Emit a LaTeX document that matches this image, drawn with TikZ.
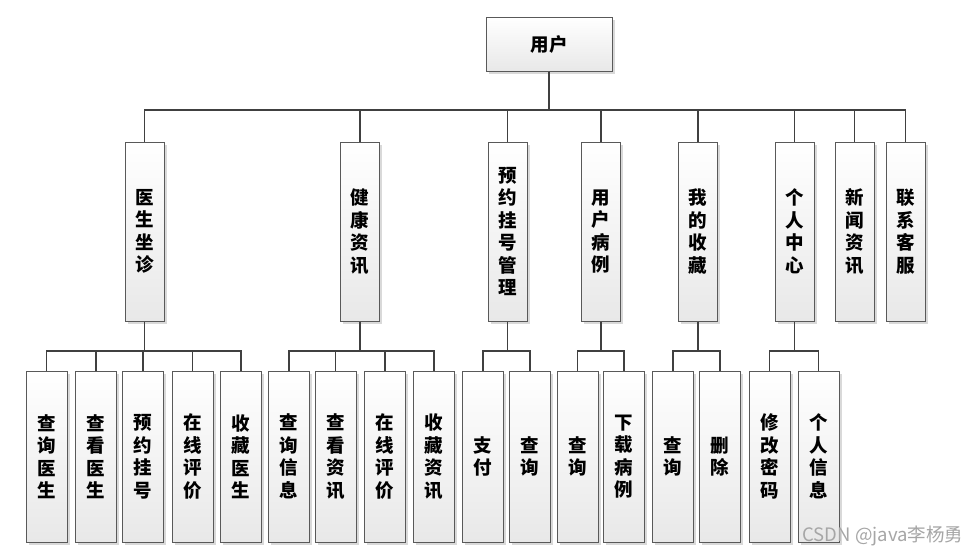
\documentclass[tikz,border=0pt]{standalone}
\usepackage{fontspec}
\newfontfamily\cjk{Noto Sans CJK SC}
\usetikzlibrary{shadows}

\begin{document}
\begin{tikzpicture}[x=1pt,y=-1pt,
  box/.style={draw=black!65, line width=1pt, top color=white, bottom color=black!9,
    drop shadow={shadow xshift=2.5pt, shadow yshift=-2.5pt, fill=black!15, opacity=1},
    font=\cjk\bfseries\fontsize{18.5}{22.5}\selectfont, align=center, inner sep=0pt},
  topbox/.style={box, minimum width=126pt, minimum height=54pt},
  midbox/.style={box, minimum width=39pt, minimum height=179pt},
  leafbox/.style={box, minimum width=41pt, minimum height=171pt},
  link/.style={draw=black!75, line width=1.5pt}]

\fill[white] (0,0) rectangle (977,555);
\useasboundingbox (0,0) rectangle (977,555);

\coordinate (bus1) at (0,110);
\coordinate (bus2) at (0,351);

% top
\node[topbox] (user) at (549,44) {用户};

% second level
\node[midbox] (doctor)  at (144.5,231.5) {医\\生\\坐\\诊};
\node[midbox] (health)  at (360,231.5)   {健\\康\\资\\讯};
\node[midbox] (booking) at (507.5,231.5) {预\\约\\挂\\号\\管\\理};
\node[midbox] (record)  at (601,231.5)   {用\\户\\病\\例};
\node[midbox] (fav)     at (698,231.5)   {我\\的\\收\\藏};
\node[midbox] (center)  at (794.5,231.5) {个\\人\\中\\心};
\node[midbox] (news)    at (854.5,231.5) {新\\闻\\资\\讯};
\node[midbox] (service) at (905.5,231.5) {联\\系\\客\\服};

% third level
\node[leafbox] (d1) at (46.5,456.5)  {查\\询\\医\\生};
\node[leafbox] (d2) at (96,456.5)    {查\\看\\医\\生};
\node[leafbox] (d3) at (143,456.5)   {预\\约\\挂\\号};
\node[leafbox] (d4) at (192.5,456.5) {在\\线\\评\\价};
\node[leafbox] (d5) at (241,456.5)   {收\\藏\\医\\生};

\node[leafbox] (h1) at (289,456.5)   {查\\询\\信\\息};
\node[leafbox] (h2) at (335.5,456.5) {查\\看\\资\\讯};
\node[leafbox] (h3) at (385,456.5)   {在\\线\\评\\价};
\node[leafbox] (h4) at (434,456.5)   {收\\藏\\资\\讯};

\node[leafbox] (b1) at (483,456.5)   {支\\付};
\node[leafbox] (b2) at (530,456.5)   {查\\询};

\node[leafbox] (r1) at (577.5,456.5) {查\\询};
\node[leafbox] (r2) at (624,456.5)   {下\\载\\病\\例};

\node[leafbox] (f1) at (673,456.5)   {查\\询};
\node[leafbox] (f2) at (720,456.5)   {删\\除};

\node[leafbox] (c1) at (769.5,456.5) {修\\改\\密\\码};
\node[leafbox] (c2) at (818.5,456.5) {个\\人\\信\\息};

% connectors
\foreach \c in {doctor,health,booking,record,fav,center,news,service}
  \draw[link] (user.south) -- (user.south |- bus1) -| (\c.north);
\foreach \c in {d1,d2,d3,d4,d5}
  \draw[link] (doctor.south) -- (doctor.south |- bus2) -| (\c.north);
\foreach \c in {h1,h2,h3,h4}
  \draw[link] (health.south) -- (health.south |- bus2) -| (\c.north);
\foreach \c in {b1,b2}
  \draw[link] (booking.south) -- (booking.south |- bus2) -| (\c.north);
\foreach \c in {r1,r2}
  \draw[link] (record.south) -- (record.south |- bus2) -| (\c.north);
\foreach \c in {f1,f2}
  \draw[link] (fav.south) -- (fav.south |- bus2) -| (\c.north);
\foreach \c in {c1,c2}
  \draw[link] (center.south) -- (center.south |- bus2) -| (\c.north);

\node[text=black!35, font=\cjk\fontsize{18.5}{18.5}\selectfont] (mark) at (883,536) {CSDN @java李杨勇};
\end{tikzpicture}
\end{document}
